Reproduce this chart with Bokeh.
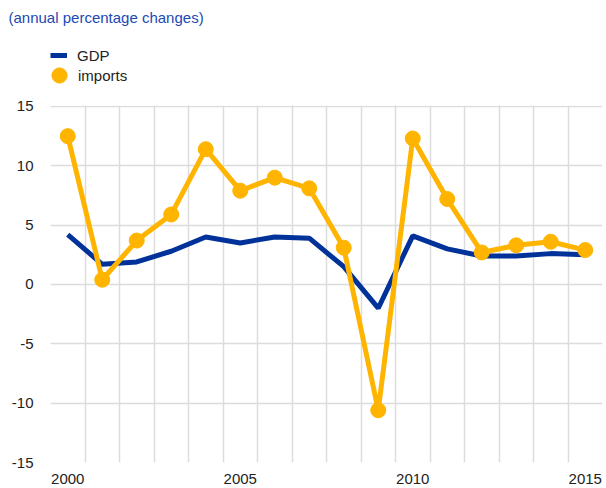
from bokeh.plotting import figure
from bokeh.models import FixedTicker, Legend, LegendItem, Range1d, BoxAnnotation
from bokeh.embed import file_html
from bokeh.resources import INLINE

years = list(range(2000, 2016))
gdp = [4.2, 1.7, 1.9, 2.8, 4.0, 3.5, 4.0, 3.9, 1.5, -2.0, 4.1, 3.0, 2.4, 2.4, 2.6, 2.5]
imports = [12.5, 0.4, 3.7, 5.9, 11.4, 7.9, 9.0, 8.1, 3.1, -10.6, 12.3, 7.2, 2.7, 3.3, 3.6, 2.9]
x_ticks = [2000, 2005, 2010, 2015]
y_ticks = [-15, -10, -5, 0, 5, 10, 15]
y_labels = {-15: "-15", -10: "-10", -5: "-5", 0: "0", 5: "5", 10: "10", 15: "15"}

FONT = "Liberation Sans"
BLUE = "#003299"
YELLOW = "#FFB400"

p = figure(width=606, height=488, output_backend="svg", toolbar_location=None,
           x_range=Range1d(1999.5, 2015.5), y_range=Range1d(-15, 21.4),
           min_border_left=50, min_border_right=4, min_border_bottom=26, min_border_top=30)

p.title.text = "(annual percentage changes)"
p.title.text_font = FONT
p.title.text_font_size = "15px"
p.title.text_font_style = "normal"
p.title.text_color = "#2149b4"
p.title.offset = -42

gl = p.line(years, gdp, line_color=BLUE, line_width=5)
il = p.line(years, imports, line_color=YELLOW, line_width=5)
ic = p.scatter(years, imports, size=15, color=YELLOW)

# blank out the grid above the top value so the legend sits on white
p.add_layout(BoxAnnotation(bottom=15.07, fill_color="white", fill_alpha=1.0, line_color=None))

common = dict(orientation="vertical", label_text_font=FONT, label_text_font_size="15px",
              label_text_color="#222222", padding=0, margin=0,
              border_line_color=None, background_fill_alpha=0)
leg_gdp = Legend(items=[LegendItem(label="GDP", renderers=[gl])],
                 location=(0, 398), glyph_width=17, glyph_height=14,
                 label_standoff=10, label_height=18, **common)
leg_imp = Legend(items=[LegendItem(label="imports", renderers=[ic])],
                 location=(-10, 368), glyph_width=38, glyph_height=38,
                 label_standoff=0, label_height=18, **common)
p.add_layout(leg_gdp)
p.add_layout(leg_imp)

p.xaxis.ticker = FixedTicker(ticks=x_ticks)
p.yaxis.ticker = FixedTicker(ticks=y_ticks)
p.yaxis.major_label_overrides = y_labels
p.xgrid.ticker = FixedTicker(ticks=[1999.5 + i for i in range(17)])
p.ygrid.ticker = FixedTicker(ticks=y_ticks)
for g in (p.xgrid, p.ygrid):
    g.grid_line_color = "#dcdcdc"
    g.grid_line_width = 1.5
for ax in (p.xaxis, p.yaxis):
    ax.axis_line_color = None
    ax.major_tick_line_color = None
    ax.minor_tick_line_color = None
    ax.major_label_text_font = FONT
    ax.major_label_text_font_size = "15px"
    ax.major_label_text_color = "#222222"
p.xaxis.major_label_standoff = 5
p.yaxis.major_label_standoff = 11
p.outline_line_color = None

open("out.html", "w").write(file_html(p, INLINE))
